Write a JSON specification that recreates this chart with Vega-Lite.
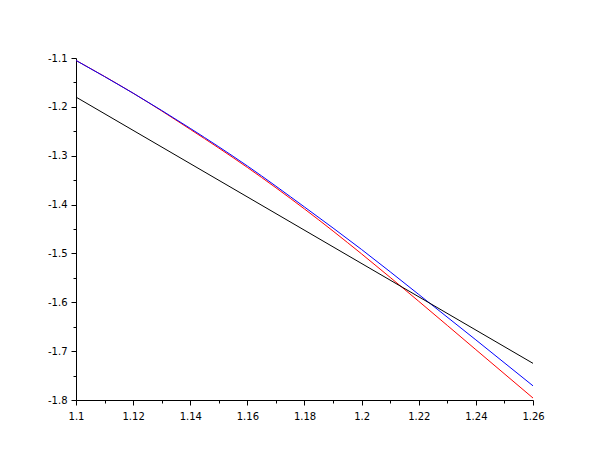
{
  "$schema": "https://vega.github.io/schema/vega-lite/v6.json",
  "autosize": {"type": "none"},
  "padding": {"left": 76, "top": 58, "right": 77, "bottom": 60},
  "width": 457,
  "height": 342,
  "background": "white",
  "config": {
    "view": {"stroke": null},
    "axis": {
      "grid": false,
      "title": null,
      "domainColor": "black",
      "tickColor": "black",
      "labelColor": "black",
      "labelFont": "DejaVu Sans",
      "labelFontSize": 10,
      "domainWidth": 1,
      "tickWidth": 1
    }
  },
  "data": {
    "values": [
      {"series": "red", "x": 1.10, "y": -1.105},
      {"series": "red", "x": 1.12, "y": -1.172},
      {"series": "red", "x": 1.14, "y": -1.246},
      {"series": "red", "x": 1.16, "y": -1.324},
      {"series": "red", "x": 1.18, "y": -1.409},
      {"series": "red", "x": 1.20, "y": -1.501},
      {"series": "red", "x": 1.22, "y": -1.598},
      {"series": "red", "x": 1.24, "y": -1.697},
      {"series": "red", "x": 1.26, "y": -1.796},
      {"series": "blue", "x": 1.10, "y": -1.105},
      {"series": "blue", "x": 1.12, "y": -1.172},
      {"series": "blue", "x": 1.14, "y": -1.244},
      {"series": "blue", "x": 1.16, "y": -1.321},
      {"series": "blue", "x": 1.18, "y": -1.405},
      {"series": "blue", "x": 1.20, "y": -1.492},
      {"series": "blue", "x": 1.22, "y": -1.584},
      {"series": "blue", "x": 1.24, "y": -1.677},
      {"series": "blue", "x": 1.26, "y": -1.771},
      {"series": "black", "x": 1.10, "y": -1.180},
      {"series": "black", "x": 1.26, "y": -1.725}
    ]
  },
  "resolve": {"axis": {"x": "independent", "y": "independent"}},
  "layer": [
    {
      "mark": {"type": "line", "strokeWidth": 1, "clip": true, "interpolate": "monotone"},
      "encoding": {
        "x": {
          "field": "x", "type": "quantitative",
          "scale": {"domain": [1.1, 1.26], "nice": false, "zero": false},
          "axis": {
            "orient": "bottom",
            "values": [1.1, 1.12, 1.14, 1.16, 1.18, 1.2, 1.22, 1.24, 1.26],
            "labelExpr": "'' + datum.value",
            "tickSize": 5,
            "labelPadding": 6,
            "labelFlush": false,
            "labelOverlap": false
          }
        },
        "y": {
          "field": "y", "type": "quantitative",
          "scale": {"domain": [-1.8, -1.1], "nice": false, "zero": false},
          "axis": {
            "orient": "left",
            "values": [-1.8, -1.7, -1.6, -1.5, -1.4, -1.3, -1.2, -1.1],
            "labelExpr": "'' + datum.value",
            "tickSize": 5,
            "labelPadding": 4,
            "labelFlush": false,
            "labelOverlap": false
          }
        },
        "color": {
          "field": "series", "type": "nominal",
          "scale": {"domain": ["red", "blue", "black"], "range": ["#ff0000", "#0000ff", "#000000"]},
          "legend": null
        }
      }
    },
    {
      "mark": {"type": "point", "opacity": 0},
      "encoding": {
        "x": {
          "field": "x", "type": "quantitative",
          "axis": {
            "orient": "bottom",
            "values": [1.11, 1.13, 1.15, 1.17, 1.19, 1.21, 1.23, 1.25],
            "labels": false,
            "domain": false,
            "tickSize": 3
          }
        },
        "y": {
          "field": "y", "type": "quantitative",
          "axis": {
            "orient": "left",
            "values": [-1.75, -1.65, -1.55, -1.45, -1.35, -1.25, -1.15],
            "labels": false,
            "domain": false,
            "tickSize": 3
          }
        }
      }
    }
  ]
}
